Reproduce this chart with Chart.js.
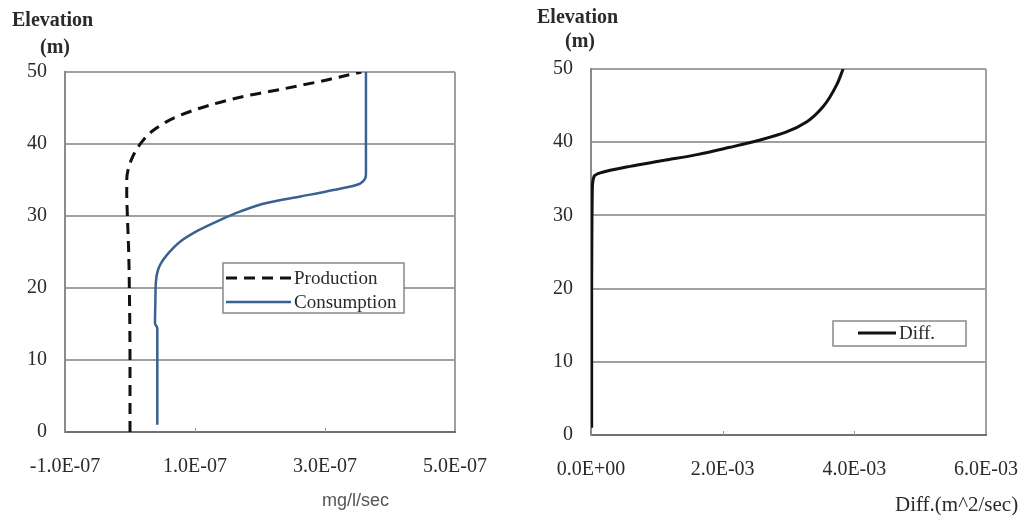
<!DOCTYPE html>
<html>
<head>
<meta charset="utf-8">
<script src="https://cdn.jsdelivr.net/npm/chart.js@4.4.1/dist/chart.umd.min.js"></script>
<style>
  html, body { margin: 0; padding: 0; background: #fff; }
  body { width: 1027px; height: 515px; position: relative; overflow: hidden; }
  canvas { position: absolute; top: 0; }
  #left { left: 0; }
  #right { left: 520px; }
</style>
</head>
<body>
<canvas id="left" width="520" height="515"></canvas>
<canvas id="right" width="507" height="515"></canvas>
<script>
// elevation ticks shared by both panels
const elevTicks = [0, 10, 20, 30, 40, 50];
const rateTicks = [-1e-7, 1e-7, 3e-7, 5e-7];
const diffTicks = [0, 2e-3, 4e-3, 6e-3];

// left panel: production / consumption (mg/l/sec) vs elevation (m)
const productionElev = [0, 10, 20, 25, 30, 33, 35, 37.8, 39.9, 41.9, 43.8, 45.4, 46.7, 47.7, 48.9, 50];
const productionRate = [0, 0, -0.01e-7, -0.02e-7, -0.04e-7, -0.05e-7, -0.05e-7, 0.02e-7, 0.15e-7, 0.36e-7, 0.72e-7, 1.23e-7, 1.80e-7, 2.38e-7, 3.03e-7, 3.56e-7];

const consumptionElev = [1, 8, 14.4, 15.1, 18, 21, 22.5, 23.5, 24.5, 25.5, 26.5, 28, 29.3, 30.6, 31.8, 32.7, 33.6, 34.5, 35.9, 42, 50];
const consumptionRate = [0.42e-7, 0.42e-7, 0.42e-7, 0.385e-7, 0.39e-7, 0.40e-7, 0.43e-7, 0.48e-7, 0.56e-7, 0.66e-7, 0.78e-7, 1.05e-7, 1.35e-7, 1.69e-7, 2.10e-7, 2.62e-7, 3.13e-7, 3.54e-7, 3.63e-7, 3.63e-7, 3.63e-7];

// right panel: diffusion coefficient (m^2/sec) vs elevation (m)
const diffElev = [1, 10, 20, 30, 33.5, 35.3, 35.8, 36.7, 37.5, 38.3, 39.3, 40.3, 41.4, 42.8, 44.9, 47.8, 50];
const diffValue = [0.01e-3, 0.01e-3, 0.01e-3, 0.015e-3, 0.02e-3, 0.045e-3, 0.14e-3, 0.59e-3, 1.10e-3, 1.61e-3, 2.11e-3, 2.57e-3, 2.97e-3, 3.28e-3, 3.53e-3, 3.73e-3, 3.83e-3];

const serif = "'Liberation Serif', 'Times New Roman', serif";
const textColor = '#2a2a2a';
const gridColor = '#a0a0a0';

function sci(v) {
  if (v === 0) return '0.0E+00';
  const parts = v.toExponential(1).split('e');
  const n = parseInt(parts[1], 10);
  return parts[0] + 'E' + (n < 0 ? '-' : '+') + String(Math.abs(n)).padStart(2, '0');
}

function toPoints(xs, ys) {
  return ys.map((y, i) => ({ x: xs[i], y: y }));
}

// draws free text (axis captions) and the small inner tick marks
const captions = {
  id: 'captions',
  afterDraw(chart, args, opts) {
    const ctx = chart.ctx;
    const xs = chart.scales.x;
    ctx.save();
    ctx.strokeStyle = '#999';
    ctx.lineWidth = 1;
    xs.ticks.slice(1, -1).forEach(t => {
      const px = Math.round(xs.getPixelForValue(t.value)) + 0.5;
      ctx.beginPath();
      ctx.moveTo(px, xs.top);
      ctx.lineTo(px, xs.top - 4);
      ctx.stroke();
    });
    ctx.textBaseline = 'middle';
    (opts.items || []).forEach(t => {
      ctx.font = t.font;
      ctx.fillStyle = t.color || textColor;
      ctx.textAlign = t.align || 'left';
      ctx.fillText(t.text, t.x, t.y);
    });
    ctx.restore();
  }
};

// boxed legend placed inside the plot
const boxLegend = {
  id: 'boxLegend',
  afterDraw(chart, args, opts) {
    if (!opts.box) return;
    const ctx = chart.ctx;
    const b = opts.box;
    ctx.save();
    ctx.fillStyle = '#fff';
    ctx.fillRect(b.x, b.y, b.w, b.h);
    ctx.strokeStyle = '#888';
    ctx.lineWidth = 1.5;
    ctx.strokeRect(b.x, b.y, b.w, b.h);
    ctx.font = opts.font;
    ctx.textBaseline = 'middle';
    ctx.textAlign = 'left';
    chart.data.datasets.forEach((ds, i) => {
      const cy = b.y + opts.firstRow + i * opts.rowHeight;
      ctx.beginPath();
      ctx.setLineDash(ds.borderDash || []);
      ctx.strokeStyle = ds.borderColor;
      ctx.lineWidth = ds.borderWidth;
      ctx.moveTo(b.x + opts.lineStart, cy);
      ctx.lineTo(b.x + opts.lineEnd, cy);
      ctx.stroke();
      ctx.setLineDash([]);
      ctx.fillStyle = textColor;
      ctx.fillText(ds.label, b.x + opts.lineEnd + 3, cy + 1);
    });
    ctx.restore();
  }
};

function makeScales(xTicks, yWidth, xHeight) {
  const xMax = xTicks[xTicks.length - 1];
  return {
    x: {
      type: 'linear',
      min: xTicks[0],
      max: xMax,
      afterBuildTicks: axis => { axis.ticks = xTicks.map(v => ({ value: v })); },
      afterFit: scale => {
        scale.height = xHeight;
        // labels may overhang, keep the plot area fixed
        scale.paddingLeft = 0;
        scale.paddingRight = 0;
      },
      grid: {
        drawTicks: false,
        lineWidth: 2,
        color: c => (c.tick && c.tick.value === xMax) ? gridColor : 'rgba(0,0,0,0)'
      },
      border: { color: '#707070', width: 2 },
      ticks: {
        padding: 23,
        color: textColor,
        font: { family: serif, size: 20 },
        maxRotation: 0,
        callback: v => sci(v)
      }
    },
    y: {
      type: 'linear',
      min: 0,
      max: 50,
      afterBuildTicks: axis => { axis.ticks = elevTicks.map(v => ({ value: v })); },
      afterFit: scale => { scale.width = yWidth; },
      grid: { drawTicks: false, lineWidth: 2, color: gridColor },
      border: { color: '#8a8a8a', width: 2 },
      ticks: {
        padding: 18,
        color: textColor,
        font: { family: serif, size: 20 },
        callback: v => String(v)
      }
    }
  };
}

new Chart(document.getElementById('left').getContext('2d'), {
  type: 'line',
  data: {
    datasets: [{
      label: 'Production',
      data: toPoints(productionRate, productionElev),
      borderColor: '#111',
      borderWidth: 3,
      borderDash: [11, 7],
      pointRadius: 0,
      cubicInterpolationMode: 'monotone'
    }, {
      label: 'Consumption',
      data: toPoints(consumptionRate, consumptionElev),
      borderColor: '#3a6193',
      borderWidth: 2.5,
      pointRadius: 0,
      cubicInterpolationMode: 'monotone'
    }]
  },
  options: {
    indexAxis: 'y',
    responsive: false,
    animation: false,
    layout: { padding: { left: 0, top: 72, right: 65, bottom: 0 } },
    scales: makeScales(rateTicks, 65, 83),
    plugins: {
      legend: { display: false },
      tooltip: { enabled: false },
      captions: {
        items: [
          { text: 'Elevation', x: 12, y: 21, font: 'bold 20px ' + serif },
          { text: '(m)', x: 40, y: 48, font: 'bold 20px ' + serif },
          { text: 'mg/l/sec', x: 322, y: 501, font: "18px 'Liberation Sans', Arial, sans-serif", color: '#555' }
        ]
      },
      boxLegend: {
        box: { x: 223, y: 263, w: 181, h: 50 },
        font: '19px ' + serif,
        firstRow: 15,
        rowHeight: 24,
        lineStart: 3,
        lineEnd: 68
      }
    }
  },
  plugins: [captions, boxLegend]
});

new Chart(document.getElementById('right').getContext('2d'), {
  type: 'line',
  data: {
    datasets: [{
      label: 'Diff.',
      data: toPoints(diffValue, diffElev),
      borderColor: '#111',
      borderWidth: 3,
      pointRadius: 0,
      cubicInterpolationMode: 'monotone'
    }]
  },
  options: {
    indexAxis: 'y',
    responsive: false,
    animation: false,
    layout: { padding: { left: 0, top: 69, right: 41, bottom: 0 } },
    scales: makeScales(diffTicks, 71, 80),
    plugins: {
      legend: { display: false },
      tooltip: { enabled: false },
      captions: {
        items: [
          { text: 'Elevation', x: 17, y: 18, font: 'bold 20px ' + serif },
          { text: '(m)', x: 45, y: 42, font: 'bold 20px ' + serif },
          { text: 'Diff.(m^2/sec)', x: 375, y: 505, font: '21px ' + serif }
        ]
      },
      boxLegend: {
        box: { x: 313, y: 321, w: 133, h: 25 },
        font: '19px ' + serif,
        firstRow: 12,
        rowHeight: 24,
        lineStart: 25,
        lineEnd: 63
      }
    }
  },
  plugins: [captions, boxLegend]
});
</script>
</body>
</html>
